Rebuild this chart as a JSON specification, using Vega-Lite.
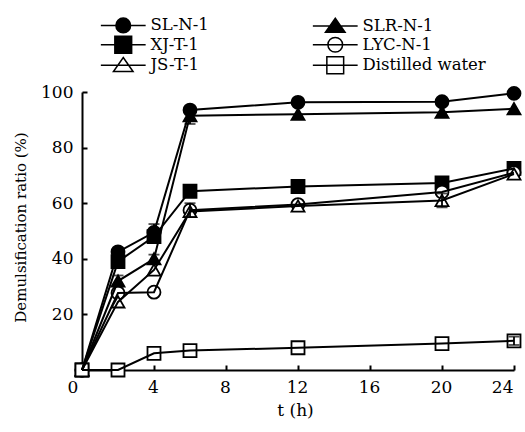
{
  "$schema": "https://vega.github.io/schema/vega-lite/v6.json",
  "width": 432,
  "height": 278,
  "autosize": {"type": "none"},
  "padding": {"left": 82, "top": 92, "right": 11, "bottom": 62},
  "background": "white",
  "data": {
    "values": [
      {"series": "SL-N-1", "t": 0, "v": 0},
      {"series": "SL-N-1", "t": 2, "v": 42.5},
      {"series": "SL-N-1", "t": 4, "v": 49.5, "lo": 47, "hi": 52.5},
      {"series": "SL-N-1", "t": 6, "v": 93.5},
      {"series": "SL-N-1", "t": 12, "v": 96.3},
      {"series": "SL-N-1", "t": 20, "v": 96.5},
      {"series": "SL-N-1", "t": 24, "v": 99.5},
      {"series": "SLR-N-1", "t": 0, "v": 0},
      {"series": "SLR-N-1", "t": 2, "v": 32, "lo": 30, "hi": 34},
      {"series": "SLR-N-1", "t": 4, "v": 40, "lo": 38.5, "hi": 41.5},
      {"series": "SLR-N-1", "t": 6, "v": 91.5, "lo": 88.5, "hi": 94.5},
      {"series": "SLR-N-1", "t": 12, "v": 92},
      {"series": "SLR-N-1", "t": 20, "v": 92.7},
      {"series": "SLR-N-1", "t": 24, "v": 94},
      {"series": "XJ-T-1", "t": 0, "v": 0},
      {"series": "XJ-T-1", "t": 2, "v": 39},
      {"series": "XJ-T-1", "t": 4, "v": 48},
      {"series": "XJ-T-1", "t": 6, "v": 64.3},
      {"series": "XJ-T-1", "t": 12, "v": 66},
      {"series": "XJ-T-1", "t": 20, "v": 67.3},
      {"series": "XJ-T-1", "t": 24, "v": 72.5},
      {"series": "LYC-N-1", "t": 0, "v": 0},
      {"series": "LYC-N-1", "t": 2, "v": 27.7},
      {"series": "LYC-N-1", "t": 4, "v": 28},
      {"series": "LYC-N-1", "t": 6, "v": 57.5, "lo": 55, "hi": 60},
      {"series": "LYC-N-1", "t": 12, "v": 59.5},
      {"series": "LYC-N-1", "t": 20, "v": 64},
      {"series": "LYC-N-1", "t": 24, "v": 71},
      {"series": "JS-T-1", "t": 0, "v": 0},
      {"series": "JS-T-1", "t": 2, "v": 24.5},
      {"series": "JS-T-1", "t": 4, "v": 36},
      {"series": "JS-T-1", "t": 6, "v": 57},
      {"series": "JS-T-1", "t": 12, "v": 59},
      {"series": "JS-T-1", "t": 20, "v": 61, "lo": 58.5, "hi": 63.5},
      {"series": "JS-T-1", "t": 24, "v": 70.5},
      {"series": "Distilled water", "t": 0, "v": 0},
      {"series": "Distilled water", "t": 2, "v": 0},
      {"series": "Distilled water", "t": 4, "v": 6},
      {"series": "Distilled water", "t": 6, "v": 7},
      {"series": "Distilled water", "t": 12, "v": 8},
      {"series": "Distilled water", "t": 20, "v": 9.5},
      {"series": "Distilled water", "t": 24, "v": 10.5, "lo": 9, "hi": 12}
    ]
  },
  "encoding": {
    "x": {
      "field": "t",
      "type": "quantitative",
      "scale": {"domain": [0, 24], "nice": false, "zero": false},
      "axis": {
        "values": [0, 4, 8, 12, 16, 20, 24],
        "title": "t (h)",
        "titleFontSize": 17,
        "labelOffset": {"condition": {"test": "datum.value === 0", "value": -15}, "value": -1},
        "titleX": 213,
        "titleY": 40,
        "titleBaseline": "middle"
      }
    },
    "y": {
      "field": "v",
      "type": "quantitative",
      "scale": {"domain": [0, 100], "nice": false},
      "axis": {
        "values": [20, 40, 60, 80, 100],
        "title": "Demulsification ratio (%)",
        "titleX": -62,
        "titleY": 135,
        "titleAngle": -90,
        "titleBaseline": "middle",
        "titleAlign": "center"
      }
    }
  },
  "layer": [
    {
      "mark": {"type": "point", "size": 169, "stroke": "black", "strokeWidth": 1.8, "opacity": 1},
      "encoding": {
        "shape": {
          "field": "series",
          "type": "nominal",
          "scale": {
            "domain": ["SL-N-1", "XJ-T-1", "JS-T-1", "SLR-N-1", "LYC-N-1", "Distilled water"],
            "range": ["circle", "square", "triangle-up", "triangle-up", "circle", "square"]
          },
          "legend": null
        },
        "fill": {
          "field": "series",
          "type": "nominal",
          "scale": {
            "domain": ["SL-N-1", "XJ-T-1", "JS-T-1", "SLR-N-1", "LYC-N-1", "Distilled water"],
            "range": ["black", "black", "white", "black", "white", "white"]
          },
          "legend": null
        }
      }
    },
    {
      "mark": {"type": "line", "stroke": "black", "strokeWidth": 2},
      "encoding": {"detail": {"field": "series"}}
    },
    {
      "transform": [{"filter": "isValid(datum.lo)"}],
      "mark": {"type": "errorbar", "ticks": {"size": 11}, "color": "black", "thickness": 1.8},
      "encoding": {
        "y": {"field": "lo", "type": "quantitative", "title": "Demulsification ratio (%)"},
        "y2": {"field": "hi"}
      }
    },
    {
      "mark": {"type": "point", "size": 196, "stroke": "black", "strokeWidth": 2, "opacity": 0},
      "encoding": {
        "shape": {
          "field": "series",
          "type": "nominal",
          "scale": {
            "domain": ["SL-N-1", "XJ-T-1", "JS-T-1", "SLR-N-1", "LYC-N-1", "Distilled water"],
            "range": [
              "M1.05,0A1.05,1.05,0,1,1,-1.05,0A1.05,1.05,0,1,1,1.05,0Z M-3.2,0H3.2",
              "M-1.2,-1.2H1.2V1.2H-1.2Z M-3.2,0H3.2",
              "M0,-1.1L1.4,0.9L-1.4,0.9Z M-3.2,0H3.2",
              "M0,-1.1L1.4,0.9L-1.4,0.9Z M-3.2,0H3.2",
              "M1.05,0A1.05,1.05,0,1,1,-1.05,0A1.05,1.05,0,1,1,1.05,0Z M-3.2,0H3.2",
              "M-1.2,-1.2H1.2V1.2H-1.2Z M-3.2,0H3.2"
            ]
          },
          "legend": {"title": null, "symbolOpacity": 1, "symbolSize": 196}
        },
        "fill": {
          "field": "series",
          "type": "nominal",
          "scale": {
            "domain": ["SL-N-1", "XJ-T-1", "JS-T-1", "SLR-N-1", "LYC-N-1", "Distilled water"],
            "range": ["black", "black", "white", "black", "white", "white"]
          },
          "legend": {"title": null, "symbolOpacity": 1, "symbolSize": 196}
        }
      }
    }
  ],
  "resolve": {"scale": {"shape": "independent", "fill": "independent"}},
  "config": {
    "view": {"stroke": null},
    "font": "DejaVu Serif",
    "axis": {
      "domainColor": "black",
      "domainWidth": 2,
      "tickColor": "black",
      "tickWidth": 2,
      "tickSize": -5,
      "labelPadding": 14,
      "labelFont": "DejaVu Serif",
      "labelFontSize": 17,
      "labelColor": "black",
      "titleFont": "DejaVu Serif",
      "titleFontSize": 15,
      "titleFontWeight": "normal",
      "titleColor": "black",
      "grid": false
    },
    "legend": {
      "orient": "none",
      "legendX": 33,
      "legendY": -75,
      "columns": 2,
      "columnPadding": 100,
      "rowPadding": -3.5,
      "padding": 0,
      "labelFont": "DejaVu Serif",
      "labelFontSize": 16.5,
      "labelColor": "black",
      "labelOffset": 19,
      "symbolSize": 196
    }
  }
}
